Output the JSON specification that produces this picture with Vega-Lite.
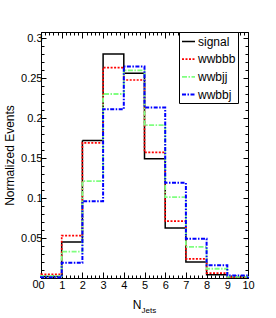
{
  "$schema": "https://vega.github.io/schema/vega-lite/v6.json",
  "width": 207,
  "height": 246,
  "autosize": "none",
  "padding": {"left": 41, "top": 32, "right": 28, "bottom": 40},
  "background": "white",
  "config": {
    "font": "Liberation Sans",
    "view": {"stroke": "black", "strokeWidth": 1},
    "axis": {"domain": false, "grid": false, "labelFlush": false, "tickColor": "black", "tickWidth": 1, "labelColor": "black", "labelFont": "Liberation Sans", "labelFontSize": 11, "titleFont": "Liberation Sans", "titleFontWeight": "normal", "titleColor": "black"},
    "legend": {"labelFont": "Liberation Sans", "labelColor": "black"}
  },
  "data": {"values": [
    {"s": "signal", "o": 0, "x": 0, "v": 0},
    {"s": "signal", "o": 1, "x": 0, "v": 0.002},
    {"s": "signal", "o": 2, "x": 1, "v": 0.045},
    {"s": "signal", "o": 3, "x": 2, "v": 0.172},
    {"s": "signal", "o": 4, "x": 3, "v": 0.280},
    {"s": "signal", "o": 5, "x": 4, "v": 0.256},
    {"s": "signal", "o": 6, "x": 5, "v": 0.149},
    {"s": "signal", "o": 7, "x": 6, "v": 0.0625},
    {"s": "signal", "o": 8, "x": 7, "v": 0.020},
    {"s": "signal", "o": 9, "x": 8, "v": 0.004},
    {"s": "signal", "o": 10, "x": 9, "v": 0.0008},
    {"s": "signal", "o": 11, "x": 10, "v": 0.0008},
    {"s": "signal", "o": 12, "x": 10, "v": 0},
    {"s": "wwbbb", "o": 0, "x": 0, "v": 0},
    {"s": "wwbbb", "o": 1, "x": 0, "v": 0.0045},
    {"s": "wwbbb", "o": 2, "x": 1, "v": 0.053},
    {"s": "wwbbb", "o": 3, "x": 2, "v": 0.169},
    {"s": "wwbbb", "o": 4, "x": 3, "v": 0.263},
    {"s": "wwbbb", "o": 5, "x": 4, "v": 0.2475},
    {"s": "wwbbb", "o": 6, "x": 5, "v": 0.157},
    {"s": "wwbbb", "o": 7, "x": 6, "v": 0.071},
    {"s": "wwbbb", "o": 8, "x": 7, "v": 0.024},
    {"s": "wwbbb", "o": 9, "x": 8, "v": 0.006},
    {"s": "wwbbb", "o": 10, "x": 9, "v": 0.001},
    {"s": "wwbbb", "o": 11, "x": 10, "v": 0.001},
    {"s": "wwbbb", "o": 12, "x": 10, "v": 0},
    {"s": "wwbjj", "o": 0, "x": 0, "v": 0},
    {"s": "wwbjj", "o": 1, "x": 0, "v": 0.0025},
    {"s": "wwbjj", "o": 2, "x": 1, "v": 0.033},
    {"s": "wwbjj", "o": 3, "x": 2, "v": 0.121},
    {"s": "wwbjj", "o": 4, "x": 3, "v": 0.230},
    {"s": "wwbjj", "o": 5, "x": 4, "v": 0.2595},
    {"s": "wwbjj", "o": 6, "x": 5, "v": 0.191},
    {"s": "wwbjj", "o": 7, "x": 6, "v": 0.101},
    {"s": "wwbjj", "o": 8, "x": 7, "v": 0.039},
    {"s": "wwbjj", "o": 9, "x": 8, "v": 0.0116},
    {"s": "wwbjj", "o": 10, "x": 9, "v": 0.0015},
    {"s": "wwbjj", "o": 11, "x": 10, "v": 0.0015},
    {"s": "wwbjj", "o": 12, "x": 10, "v": 0},
    {"s": "wwbbj", "o": 0, "x": 0, "v": 0},
    {"s": "wwbbj", "o": 1, "x": 0, "v": 0.001},
    {"s": "wwbbj", "o": 2, "x": 1, "v": 0.019},
    {"s": "wwbbj", "o": 3, "x": 2, "v": 0.096},
    {"s": "wwbbj", "o": 4, "x": 3, "v": 0.211},
    {"s": "wwbbj", "o": 5, "x": 4, "v": 0.2645},
    {"s": "wwbbj", "o": 6, "x": 5, "v": 0.213},
    {"s": "wwbbj", "o": 7, "x": 6, "v": 0.119},
    {"s": "wwbbj", "o": 8, "x": 7, "v": 0.049},
    {"s": "wwbbj", "o": 9, "x": 8, "v": 0.016},
    {"s": "wwbbj", "o": 10, "x": 9, "v": 0.003},
    {"s": "wwbbj", "o": 11, "x": 10, "v": 0.003},
    {"s": "wwbbj", "o": 12, "x": 10, "v": 0}
  ]},
  "layer": [
    {
      "mark": {"type": "line", "interpolate": "step-after"},
      "encoding": {
        "x": {"field": "x", "type": "quantitative", "scale": {"domain": [0, 10], "nice": false, "zero": false},
              "axis": {"orient": "bottom", "values": [0,1,2,3,4,5,6,7,8,9,10], "tickSize": -6, "labelPadding": 7, "labelBaseline": "top", "title": "N", "titleFontSize": 12, "titleX": 95.5, "titleY": 30, "titleBaseline": "alphabetic", "titleAlign": "center"}},
        "y": {"field": "v", "type": "quantitative", "scale": {"domain": [0, 0.3075], "nice": false},
              "axis": {"orient": "left", "values": [0,0.05,0.1,0.15,0.2,0.25,0.3], "format": ".2~f", "tickSize": -5,
                       "labelPadding": {"condition": {"test": "datum.value === 0", "value": 8}, "value": 4},
                       "labelBaseline": {"condition": {"test": "datum.value === 0", "value": "top"}, "value": "middle"},
                       "title": "Normalized Events", "titleFontSize": 12, "titleX": -31.5, "titleY": 123, "titleBaseline": "middle", "titleAlign": "center", "titleAngle": -90}},
        "color": {"field": "s", "type": "nominal",
                  "scale": {"domain": ["signal", "wwbbb", "wwbjj", "wwbbj"], "range": ["#000000", "#ff0000", "#7fff7f", "#0000ff"]},
                  "legend": {"title": null, "orient": "none", "legendX": 138, "legendY": 0, "strokeColor": "black", "fillColor": "white", "padding": 2, "symbolType": "stroke", "symbolSize": 169, "labelFontSize": 12, "labelOffset": 2, "rowPadding": 3.7, "labelExpr": "datum.label + '\u00a0\u00a0\u00a0\u00a0'"}},
        "strokeDash": {"field": "s", "type": "nominal",
                       "scale": {"domain": ["signal", "wwbbb", "wwbjj", "wwbbj"], "range": [[1, 0], [2, 1.5], [5, 1.5, 1.5, 1.5], [4, 1.5, 1.5, 1.5]]}},
        "strokeWidth": {"field": "s", "type": "ordinal",
                        "scale": {"domain": ["signal", "wwbbb", "wwbjj", "wwbbj"], "range": [1.5, 2, 2, 2]}},
        "order": {"field": "o", "type": "quantitative"}
      }
    },
    {
      "mark": {"type": "line", "opacity": 0},
      "encoding": {
        "x": {"field": "x", "type": "quantitative", "axis": {"orient": "bottom", "values": [0,0.2,0.4,0.6,0.8,1,1.2,1.4,1.6,1.8,2,2.2,2.4,2.6,2.8,3,3.2,3.4,3.6,3.8,4,4.2,4.4,4.6,4.8,5,5.2,5.4,5.6,5.8,6,6.2,6.4,6.6,6.8,7,7.2,7.4,7.6,7.8,8,8.2,8.4,8.6,8.8,9,9.2,9.4,9.6,9.8,10], "labels": false, "tickSize": -3, "title": "Jets", "titleFontSize": 8, "titleX": 100, "titleY": 34, "titleBaseline": "alphabetic", "titleAlign": "left"}},
        "y": {"field": "v", "type": "quantitative", "axis": {"orient": "left", "values": [0,0.01,0.02,0.03,0.04,0.05,0.06,0.07,0.08,0.09,0.1,0.11,0.12,0.13,0.14,0.15,0.16,0.17,0.18,0.19,0.2,0.21,0.22,0.23,0.24,0.25,0.26,0.27,0.28,0.29,0.3], "labels": false, "tickSize": -3, "title": null}}
      }
    },
    {
      "mark": {"type": "line", "opacity": 0},
      "encoding": {
        "x": {"field": "x", "type": "quantitative", "axis": {"orient": "top", "values": [0,1,2,3,4,5,6,7,8,9,10], "labels": false, "tickSize": -6, "title": null}},
        "y": {"field": "v", "type": "quantitative", "axis": {"orient": "right", "values": [0,0.05,0.1,0.15,0.2,0.25,0.3], "labels": false, "tickSize": -5, "title": null}}
      }
    },
    {
      "mark": {"type": "line", "opacity": 0},
      "encoding": {
        "x": {"field": "x", "type": "quantitative", "axis": {"orient": "top", "values": [0,0.2,0.4,0.6,0.8,1,1.2,1.4,1.6,1.8,2,2.2,2.4,2.6,2.8,3,3.2,3.4,3.6,3.8,4,4.2,4.4,4.6,4.8,5,5.2,5.4,5.6,5.8,6,6.2,6.4,6.6,6.8,7,7.2,7.4,7.6,7.8,8,8.2,8.4,8.6,8.8,9,9.2,9.4,9.6,9.8,10], "labels": false, "tickSize": -3, "title": null}},
        "y": {"field": "v", "type": "quantitative", "axis": {"orient": "right", "values": [0,0.01,0.02,0.03,0.04,0.05,0.06,0.07,0.08,0.09,0.1,0.11,0.12,0.13,0.14,0.15,0.16,0.17,0.18,0.19,0.2,0.21,0.22,0.23,0.24,0.25,0.26,0.27,0.28,0.29,0.3], "labels": false, "tickSize": -3, "title": null}}
      }
    }
  ],
  "resolve": {"axis": {"x": "independent", "y": "independent"}}
}
